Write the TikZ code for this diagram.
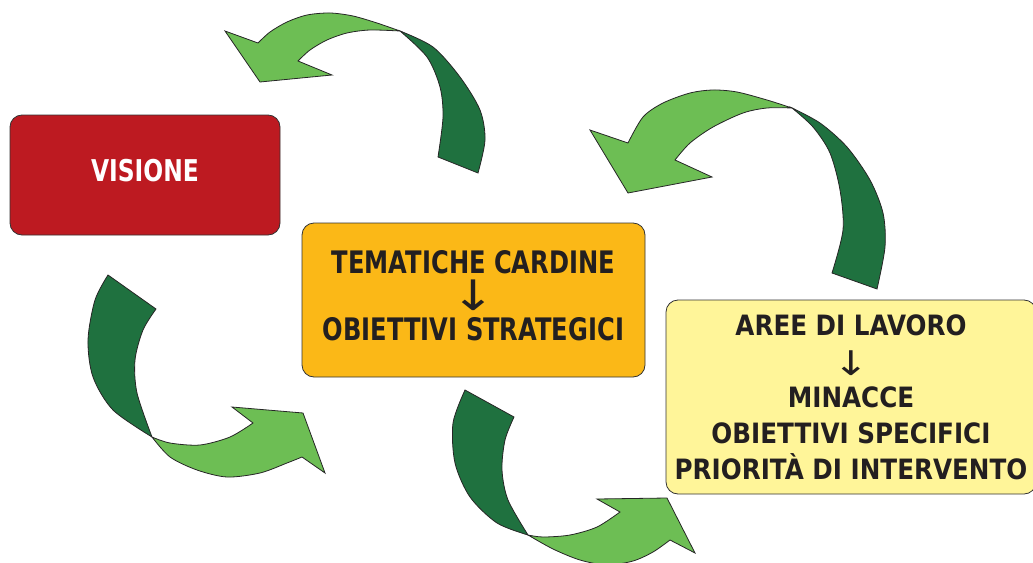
\documentclass[tikz,border=0pt]{standalone}
\usepackage{fontspec}
\newfontfamily\boxfont[FakeStretch=0.78]{DejaVu Sans}
\newfontfamily\widefont[FakeStretch=0.88]{DejaVu Sans}
\newfontfamily\arrowfont{DejaVu Sans}

\definecolor{visionered}{HTML}{BD1A21}
\definecolor{cardineorange}{HTML}{FBB817}
\definecolor{lavoroyellow}{HTML}{FFF599}
\definecolor{leafdark}{HTML}{1F713F}
\definecolor{leaflight}{HTML}{6DBE54}
\definecolor{textdark}{HTML}{231F20}

\begin{document}
\begin{tikzpicture}[x = 1pt, y = -1pt,
	box/.style = {draw = black!80, line width = 0.8pt, rounded corners = 12pt, align = center, text = textdark},
	darkleaf/.style = {fill = leafdark, draw = black!85, line width = 0.8pt},
	lightleaf/.style = {fill = leaflight, draw = black!85, line width = 0.8pt}]

	% Definition

	\def\down#1{\smash{\raisebox{-4pt}{\scalebox{1.25}[1]{\arrowfont\mdseries\fontsize{#1}{#1}\selectfont ↓}}}}	% arrow between the lines

	\useasboundingbox (0, 0) rectangle (1033, 562);
	\clip (0, 0) rectangle (1033, 562);

	% Boxes

	\node [box, fill = visionered, text = white, minimum width = 270pt, minimum height = 120pt, text depth = 10pt,
		font = \boxfont\bfseries\fontsize{30}{34}\selectfont] (visione) at (145, 175) {VISIONE};

	\node [box, fill = cardineorange, minimum width = 343pt, minimum height = 154pt, text depth = 10pt,
		font = \boxfont\bfseries\fontsize{31}{33.5}\selectfont] (cardine) at (473.5, 300)
		{TEMATICHE CARDINE\\ \down{42}\\ OBIETTIVI STRATEGICI};

	\node [box, fill = lavoroyellow, minimum width = 370pt, minimum height = 194pt,
		font = \widefont\bfseries\fontsize{28}{36}\selectfont] (lavoro) at (851, 397)
		{AREE DI LAVORO\\ \down{34}\\ MINACCE\\ OBIETTIVI SPECIFICI\\ PRIORITÀ DI INTERVENTO};

	% Twisted arrows (dark half, then light half with the head)

	% above VISIONE
	\draw [darkleaf] plot [smooth] coordinates {(438,157) (443,117) (440,87) (427,57) (400,31)}
		-- plot [smooth] coordinates {(400,31) (433,47) (460,77) (480,110) (485,140) (478,173)} -- cycle;
	\draw [lightleaf] plot [smooth] coordinates {(400,31) (377,23) (353,16) (330,13) (307,15) (287,22) (270,32) (258,43)}
		-- (225,31) -- (260,82) -- (332,75) -- (298,61)
		-- plot [smooth] coordinates {(298,61) (310,50) (327,40) (347,33) (370,30) (400,31)} -- cycle;

	% above the orange box
	\draw [darkleaf] plot [smooth] coordinates {(832,273) (843,230) (840,190) (830,153) (813,127) (792,108)}
		-- plot [smooth] coordinates {(792,108) (820,123) (847,147) (870,180) (883,213) (885,247) (877,289)} -- cycle;
	\draw [lightleaf] plot [smooth] coordinates {(792,108) (767,100) (737,92) (713,90) (690,93) (663,103) (643,117) (628,143)}
		-- (590,130) -- (628,193) -- (712,177) -- (675,160)
		-- plot [smooth] coordinates {(675,160) (690,143) (713,127) (743,113) (767,108) (792,108)} -- cycle;

	% below VISIONE
	\draw [darkleaf] plot [smooth] coordinates {(108,275) (95,300) (88,340) (93,377) (113,410) (152,437)}
		-- plot [smooth] coordinates {(152,437) (137,393) (135,360) (143,330) (156,309)} -- cycle;
	\draw [lightleaf] plot [smooth] coordinates {(152,437) (170,457) (197,470) (227,477) (260,473) (287,463) (302,457)}
		-- (325,473) -- (303,413) -- (232,407) -- (253,423)
		-- plot [smooth] coordinates {(253,423) (230,437) (200,445) (170,443) (152,437)} -- cycle;

	% below the orange box
	\draw [darkleaf] plot [smooth] coordinates {(465,390) (453,423) (455,463) (470,497) (497,523) (528,535)}
		-- plot [smooth] coordinates {(528,535) (508,500) (502,470) (505,440) (514,417)} -- cycle;
	\draw [lightleaf] plot [smooth] coordinates {(528,535) (553,549) (580,560) (607,565) (633,561) (653,552) (670,540)}
		-- (695,553) -- (667,498) -- (597,499) -- (620,512)
		-- plot [smooth] coordinates {(620,512) (597,527) (570,535) (543,537) (528,535)} -- cycle;

\end{tikzpicture}
\end{document}
